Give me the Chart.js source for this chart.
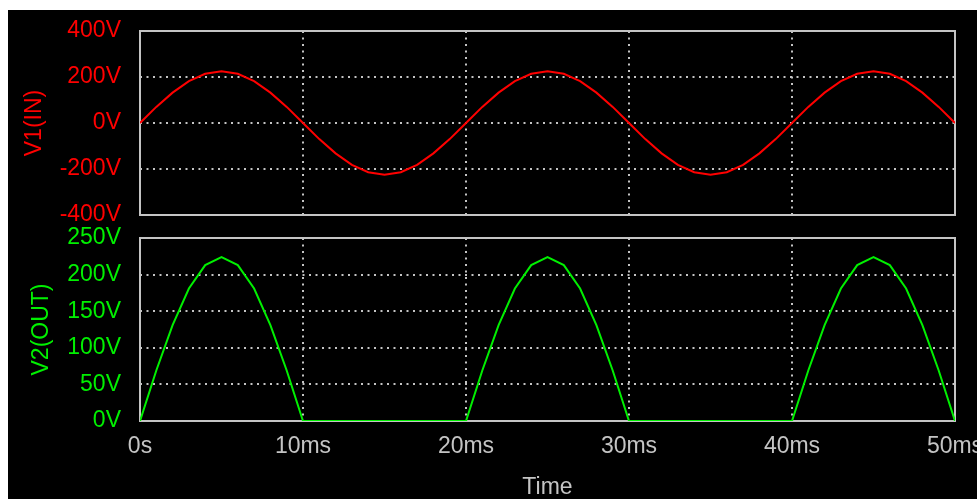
<!DOCTYPE html>
<html>
<head>
<meta charset="utf-8">
<script src="https://cdn.jsdelivr.net/npm/chart.js@4/dist/chart.umd.min.js"></script>
<style>
  body { margin: 0; background: #fff; overflow: hidden; width: 977px; height: 499px; }
  #bg { position: absolute; left: 8px; top: 10px; width: 969px; height: 489px; background: #000; }
  canvas { position: absolute; left: 8px; }
  #topChart { top: 10px; }
  #botChart { top: 220px; }
</style>
</head>
<body>
<div id="bg"></div>
<canvas id="topChart" width="1000" height="230"></canvas>
<canvas id="botChart" width="1000" height="279"></canvas>
<script>
// time in ms, sampled every 1 ms
const timeMs = [0,1,2,3,4,5,6,7,8,9,10,11,12,13,14,15,16,17,18,19,20,21,22,23,24,25,26,27,28,29,30,
                31,32,33,34,35,36,37,38,39,40,41,42,43,44,45,46,47,48,49,50];

const v1In = [0,70,132,182,214,225,214,182,132,70,0,-70,-132,-182,-214,-225,-214,-182,-132,-70,
              0,70,132,182,214,225,214,182,132,70,0,-70,-132,-182,-214,-225,-214,-182,-132,-70,
              0,70,132,182,214,225,214,182,132,70,0];

const v2Out = [0,69,131,181,213,224,213,181,131,69,0,0,0,0,0,0,0,0,0,0,
               0,69,131,181,213,224,213,181,131,69,0,0,0,0,0,0,0,0,0,0,
               0,69,131,181,213,224,213,181,131,69,0];

const xTickLabels = ['0s', '10ms', '20ms', '30ms', '40ms', '50ms'];
const v1TickLabels = ['-400V', '-200V', '0V', '200V', '400V'];
const v2TickLabels = ['0V', '50V', '100V', '150V', '200V', '250V'];

const RED = '#ff0000';
const GREEN = '#00f000';
const GRAY = '#c4c4c4';
const FONT = 'Liberation Sans, Arial, sans-serif';

const framePlugin = {
    id: 'frame',
    beforeDatasetsDraw(chart) {
        const a = chart.chartArea;
        const ctx = chart.ctx;
        ctx.save();
        ctx.strokeStyle = GRAY;
        ctx.lineWidth = 2;
        ctx.strokeRect(a.left, a.top, a.right - a.left, a.bottom - a.top);
        ctx.restore();
    }
};

function points(ys) {
    return timeMs.map((t, i) => ({ x: t, y: ys[i] }));
}

// keep label overhang from moving the plot area
function noPad(s) {
    s.paddingTop = 0;
    s.paddingBottom = 0;
    s.paddingLeft = 0;
    s.paddingRight = 0;
}

function xScale(showLabels) {
    return {
        type: 'linear',
        min: 0,
        max: 50,
        grid: { color: GRAY, lineWidth: 2, drawTicks: false },
        border: { display: false, dash: [2, 4.5] },
        ticks: {
            display: showLabels,
            stepSize: 10,
            padding: 12,
            color: GRAY,
            font: { family: FONT, size: 23 },
            maxRotation: 0,
            callback: (v, i) => xTickLabels[i]
        },
        title: {
            display: showLabels,
            text: 'Time',
            color: GRAY,
            font: { family: FONT, size: 23, lineHeight: 1 },
            padding: { top: 0, bottom: 0 }
        },
        afterFit: s => { s.height = showLabels ? 78 : 0; noPad(s); }
    };
}

function yScale(min, max, step, labels, color, title, titlePad) {
    return {
        min: min,
        max: max,
        grid: { color: GRAY, lineWidth: 2, drawTicks: false },
        border: { display: false, dash: [2, 4.5] },
        ticks: {
            stepSize: step,
            autoSkip: false,
            padding: 19,
            color: color,
            font: { family: FONT, size: 23 },
            callback: (v, i) => labels[i]
        },
        title: {
            display: true,
            text: title,
            color: color,
            font: { family: FONT, size: 23 },
            padding: { top: titlePad, bottom: 0 }
        },
        afterFit: s => { s.width = 132; noPad(s); }
    };
}

new Chart(document.getElementById('topChart'), {
    type: 'line',
    data: {
        datasets: [{
            data: points(v1In),
            borderColor: RED,
            borderWidth: 2,
            pointRadius: 0,
            tension: 0
        }]
    },
    options: {
        responsive: false,
        animation: false,
        layout: { padding: { left: 0, right: 53, top: 21, bottom: 25 } },
        plugins: { legend: { display: false }, tooltip: { enabled: false } },
        scales: {
            x: xScale(false),
            y: yScale(-400, 400, 200, v1TickLabels, RED, 'V1(IN)', 13)
        }
    },
    plugins: [framePlugin]
});

new Chart(document.getElementById('botChart'), {
    type: 'line',
    data: {
        datasets: [{
            data: points(v2Out),
            borderColor: GREEN,
            borderWidth: 2,
            pointRadius: 0,
            tension: 0
        }]
    },
    options: {
        responsive: false,
        animation: false,
        layout: { padding: { left: 0, right: 53, top: 18, bottom: 0 } },
        plugins: { legend: { display: false }, tooltip: { enabled: false } },
        scales: {
            x: xScale(true),
            y: yScale(0, 250, 50, v2TickLabels, GREEN, 'V2(OUT)', 20)
        }
    },
    plugins: [framePlugin]
});
</script>
</body>
</html>
